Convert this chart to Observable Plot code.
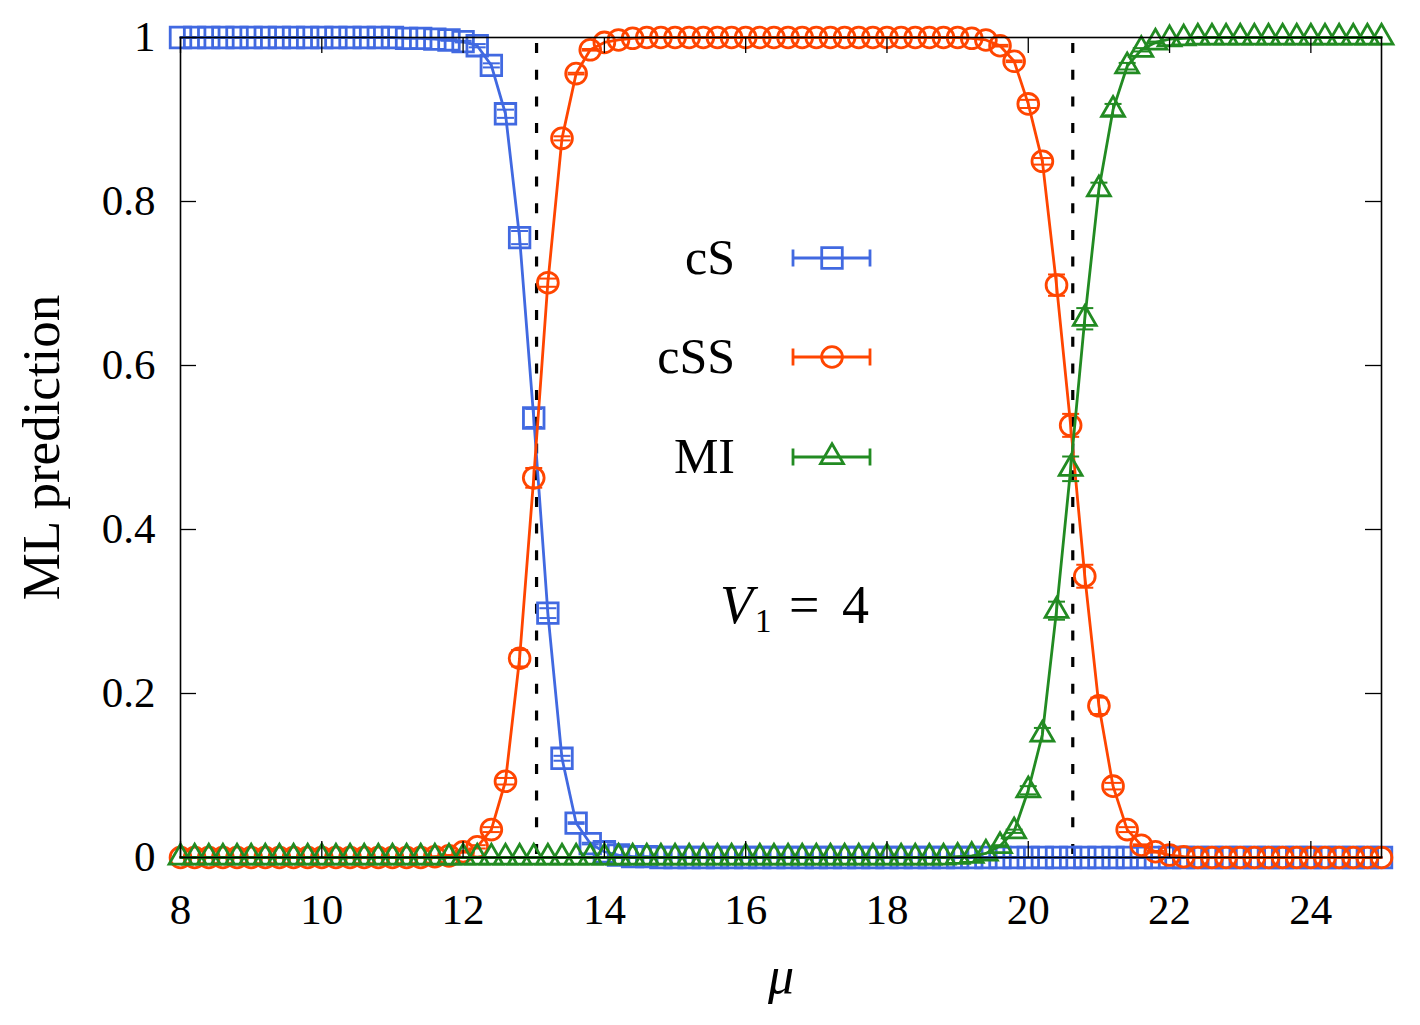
<!DOCTYPE html>
<html>
<head>
<meta charset="utf-8">
<script src="https://cdn.jsdelivr.net/npm/d3@7"></script>
<script src="https://cdn.jsdelivr.net/npm/@observablehq/plot@0.6"></script>
<style>
  html, body { margin: 0; padding: 0; background: #fff; }
  #chart { width: 1420px; height: 1025px; }
</style>
</head>
<body>
<div id="chart"></div>
<script>
// ---------------- data ----------------
const mu = [
  8.0, 8.2, 8.4, 8.6, 8.8,
  9.0, 9.2, 9.4, 9.6, 9.8,
  10.0, 10.2, 10.4, 10.6, 10.8,
  11.0, 11.2, 11.4, 11.6, 11.8,
  12.0, 12.2, 12.4, 12.6, 12.8,
  13.0, 13.2, 13.4, 13.6, 13.8,
  14.0, 14.2, 14.4, 14.6, 14.8,
  15.0, 15.2, 15.4, 15.6, 15.8,
  16.0, 16.2, 16.4, 16.6, 16.8,
  17.0, 17.2, 17.4, 17.6, 17.8,
  18.0, 18.2, 18.4, 18.6, 18.8,
  19.0, 19.2, 19.4, 19.6, 19.8,
  20.0, 20.2, 20.4, 20.6, 20.8,
  21.0, 21.2, 21.4, 21.6, 21.8,
  22.0, 22.2, 22.4, 22.6, 22.8,
  23.0, 23.2, 23.4, 23.6, 23.8,
  24.0, 24.2, 24.4, 24.6, 24.8,
  25.0
];

const cS = [
  1, 1, 1, 1, 1,
  1, 1, 1, 1, 1,
  1, 1, 1, 1, 1,
  1, 0.999, 0.999, 0.998, 0.997,
  0.995, 0.990, 0.966, 0.907, 0.756,
  0.536, 0.298, 0.121, 0.042, 0.017,
  0.007, 0.003, 0.001, 0.001, 0,
  0, 0, 0, 0, 0,
  0, 0, 0, 0, 0,
  0, 0, 0, 0, 0,
  0, 0, 0, 0, 0,
  0, 0, 0, 0, 0,
  0, 0, 0, 0, 0,
  0, 0, 0, 0, 0,
  0, 0, 0, 0, 0,
  0, 0, 0, 0, 0,
  0, 0, 0, 0, 0,
  0
];
const cSErr = [
  0, 0, 0, 0, 0,
  0, 0, 0, 0, 0,
  0, 0, 0, 0, 0,
  0, 0, 0, 0, 0.001,
  0.001, 0.002, 0.0025, 0.005, 0.008,
  0.011, 0.006, 0.003, 0.001, 0.001,
  0, 0, 0, 0, 0,
  0, 0, 0, 0, 0,
  0, 0, 0, 0, 0,
  0, 0, 0, 0, 0,
  0, 0, 0, 0, 0,
  0, 0, 0, 0, 0,
  0, 0, 0, 0, 0,
  0, 0, 0, 0, 0,
  0, 0, 0, 0, 0,
  0, 0, 0, 0, 0,
  0, 0, 0, 0, 0,
  0
];

const cSS = [
  0, 0, 0, 0, 0,
  0, 0, 0, 0, 0,
  0, 0, 0, 0, 0,
  0, 0, 0, 0.001, 0.002,
  0.007, 0.013, 0.034, 0.093, 0.243,
  0.463, 0.701, 0.877, 0.956, 0.985,
  0.994, 0.997, 0.999, 1, 1,
  1, 1, 1, 1, 1,
  1, 1, 1, 1, 1,
  1, 1, 1, 1, 1,
  1, 1, 1, 1, 1,
  1, 0.999, 0.997, 0.990, 0.971,
  0.919, 0.849, 0.698, 0.527, 0.343,
  0.185, 0.087, 0.034, 0.015, 0.007,
  0.003, 0.001, 0, 0, 0,
  0, 0, 0, 0, 0,
  0, 0, 0, 0, 0,
  0
];
const cSSErr = [
  0, 0, 0, 0, 0,
  0, 0, 0, 0, 0,
  0, 0, 0, 0, 0,
  0, 0, 0, 0, 0.001,
  0.001, 0.002, 0.003, 0.004, 0.010,
  0.012, 0.005, 0.0025, 0.001, 0.001,
  0, 0, 0, 0, 0,
  0, 0, 0, 0, 0,
  0, 0, 0, 0, 0,
  0, 0, 0, 0, 0,
  0, 0, 0, 0, 0,
  0, 0, 0, 0.001, 0.001,
  0.005, 0.004, 0.013, 0.014, 0.014,
  0.010, 0.004, 0.003, 0.001, 0.001,
  0, 0, 0, 0, 0,
  0, 0, 0, 0, 0,
  0, 0, 0, 0, 0,
  0
];

const MI = [
  0, 0, 0, 0, 0,
  0, 0, 0, 0, 0,
  0, 0, 0, 0, 0,
  0, 0, 0, 0, 0,
  0, 0, 0, 0, 0,
  0, 0, 0, 0, 0,
  0, 0, 0, 0, 0,
  0, 0, 0, 0, 0,
  0, 0, 0, 0, 0,
  0, 0, 0, 0, 0,
  0, 0, 0, 0, 0,
  0.001, 0.002, 0.005, 0.014, 0.032,
  0.082, 0.150, 0.301, 0.474, 0.657,
  0.815, 0.912, 0.965, 0.985, 0.994,
  0.998, 0.999, 1, 1, 1,
  1, 1, 1, 1, 1,
  1, 1, 1, 1, 1,
  1
];
const MIErr = [
  0, 0, 0, 0, 0,
  0, 0, 0, 0, 0,
  0, 0, 0, 0, 0,
  0, 0, 0, 0, 0,
  0, 0, 0, 0, 0,
  0, 0, 0, 0, 0,
  0, 0, 0, 0, 0,
  0, 0, 0, 0, 0,
  0, 0, 0, 0, 0,
  0, 0, 0, 0, 0,
  0, 0, 0, 0, 0,
  0, 0, 0, 0.001, 0.002,
  0.005, 0.008, 0.011, 0.015, 0.013,
  0.008, 0.007, 0.004, 0.002, 0.001,
  0, 0, 0, 0, 0,
  0, 0, 0, 0, 0,
  0, 0, 0, 0, 0,
  0
];

const seriesNames = ["cS", "cSS", "MI"];
const transitions = [13.04, 20.63];        // dashed vertical lines (μ)
const xTicks = [8, 10, 12, 14, 16, 18, 20, 22, 24];
const yTicks = [0, 0.2, 0.4, 0.6, 0.8, 1];
const xLabel = "μ";
const yLabel = "ML prediction";

// ---------------- styling ----------------
const W = 1420, H = 1025;
const M = {left: 180, right: 39, top: 37, bottom: 168};
const FW = W - M.left - M.right, FH = H - M.top - M.bottom;
const FONT = "'Liberation Serif', 'Times New Roman', serif";
const SW = 2.8;

const defs = [
  {name: seriesNames[0], values: cS,  err: cSErr,  color: "#4169e1", symbol: "square",   d3sym: d3.symbolSquare,   r: 11.6},
  {name: seriesNames[1], values: cSS, err: cSSErr, color: "#ff4500", symbol: "circle",   d3sym: d3.symbolCircle,   r: 10.4},
  {name: seriesNames[2], values: MI,  err: MIErr,  color: "#228b22", symbol: "triangle", d3sym: d3.symbolTriangle, r: 8.5}
];

const CAP = 8.5;
const capSymbol = {draw(ctx) { ctx.moveTo(-CAP, 0); ctx.lineTo(CAP, 0); }};

const seriesMarks = defs.flatMap(s => {
  const rows = mu.map((m, i) => ({mu: m, v: s.values[i], e: s.err[i]}));
  const errRows = rows.filter(d => d.e > 0);
  return [
    Plot.line(rows, {x: "mu", y: "v", stroke: s.color, strokeWidth: SW}),
    Plot.ruleX(errRows, {x: "mu", y1: d => d.v - d.e, y2: d => d.v + d.e, stroke: s.color, strokeWidth: 2}),
    Plot.dot(errRows, {x: "mu", y: d => d.v - d.e, symbol: capSymbol, fill: "none", stroke: s.color, strokeWidth: 2}),
    Plot.dot(errRows, {x: "mu", y: d => d.v + d.e, symbol: capSymbol, fill: "none", stroke: s.color, strokeWidth: 2}),
    Plot.dot(rows, {x: "mu", y: "v", symbol: s.symbol, r: s.r, fill: "none", stroke: s.color, strokeWidth: SW})
  ];
});

// legend + annotation drawn as a render mark (layout offsets relative to the frame)
function legendMark(index, scales, values, dims) {
  const g = d3.create("svg:g");
  const L = dims.marginLeft, T = dims.marginTop;
  const rowOff = [221, 320, 420];
  defs.forEach((s, i) => {
    const y = T + rowOff[i];
    g.append("text")
      .attr("x", L + 555).attr("y", y + 16)
      .attr("text-anchor", "end").attr("font-size", 50).attr("fill", "black")
      .text(s.name);
    g.append("line").attr("x1", L + 613).attr("x2", L + 690).attr("y1", y).attr("y2", y)
      .attr("stroke", s.color).attr("stroke-width", SW);
    for (const x of [L + 613, L + 690]) {
      g.append("line").attr("x1", x).attr("x2", x).attr("y1", y - CAP).attr("y2", y + CAP)
        .attr("stroke", s.color).attr("stroke-width", SW);
    }
    g.append("path")
      .attr("d", d3.symbol(s.d3sym, Math.PI * s.r * s.r)())
      .attr("transform", `translate(${L + 652},${y})`)
      .attr("fill", "none").attr("stroke", s.color).attr("stroke-width", SW);
  });
  // V_1 = 4 annotation
  const by = T + 586;
  const t = g.append("g").attr("fill", "black").attr("text-anchor", "start");
  t.append("text").attr("x", L + 540).attr("y", by).attr("font-size", 54).attr("font-style", "italic").text("V");
  t.append("text").attr("x", L + 575).attr("y", by + 9).attr("font-size", 33).text("1");
  t.append("text").attr("x", L + 609).attr("y", by).attr("font-size", 54).text("=");
  t.append("text").attr("x", L + 662).attr("y", by).attr("font-size", 54).text("4");
  return g.node();
}

const chart = Plot.plot({
  width: W, height: H,
  marginLeft: M.left, marginRight: M.right, marginTop: M.top, marginBottom: M.bottom,
  x: {domain: [8, 25]},
  y: {domain: [0, 1]},
  style: {fontFamily: FONT, fontSize: "43px", color: "black", background: "white", overflow: "visible"},
  marks: [
    Plot.ruleX(transitions, {stroke: "black", strokeWidth: 3.2, strokeDasharray: "10,16.7", strokeDashoffset: 20.7}),
    ...seriesMarks,
    legendMark,
    Plot.frame({stroke: "black", strokeWidth: 1.6}),
    Plot.tickY(yTicks, {y: d => d, insetRight: FW - 16, stroke: "black", strokeWidth: 1.3}),
    Plot.tickY(yTicks, {y: d => d, insetLeft: FW - 16, stroke: "black", strokeWidth: 1.3}),
    Plot.tickX(xTicks, {x: d => d, insetTop: FH - 16, stroke: "black", strokeWidth: 1.3}),
    Plot.tickX(xTicks, {x: d => d, insetBottom: FH - 16, stroke: "black", strokeWidth: 1.3}),
    Plot.axisY(yTicks, {tickSize: 0, tickPadding: 25, tickFormat: d => String(d), fontSize: 43, label: null}),
    Plot.axisX(xTicks, {tickSize: 0, tickPadding: 36, tickFormat: d => String(d), fontSize: 43, label: null}),
    Plot.text([yLabel], {frameAnchor: "left", dx: -138, rotate: -90, textAnchor: "middle", lineAnchor: "middle", fontSize: 53, fill: "black"}),
    Plot.text([xLabel], {frameAnchor: "bottom", dy: 119, textAnchor: "middle", lineAnchor: "middle", fontSize: 52, fontStyle: "italic", fill: "black"})
  ]
});

document.getElementById("chart").appendChild(chart);
</script>
</body>
</html>
